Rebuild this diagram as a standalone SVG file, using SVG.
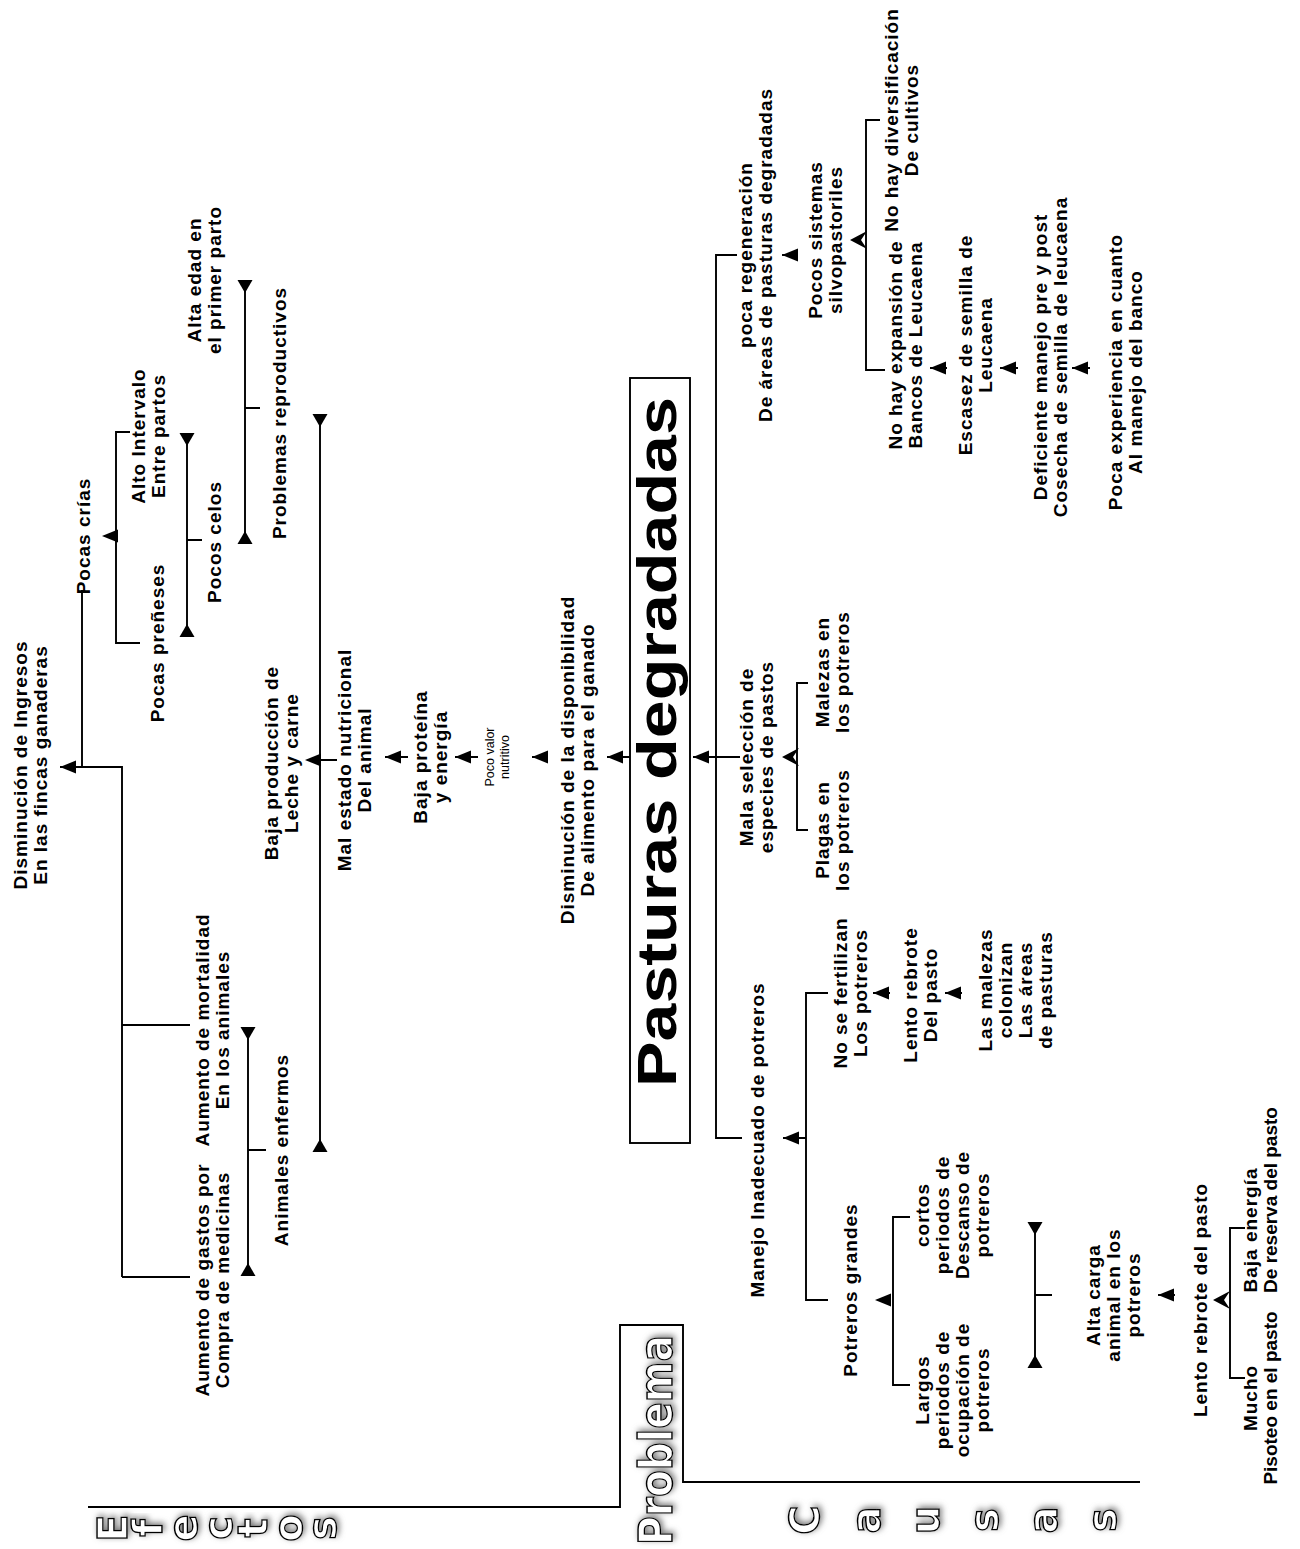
<svg xmlns="http://www.w3.org/2000/svg" xmlns:xlink="http://www.w3.org/1999/xlink" width="1300" height="1549" viewBox="0 0 1300 1549">
<style>
.t{font-family:"Liberation Sans",Arial,sans-serif;font-weight:bold;font-size:19px;letter-spacing:1px;text-anchor:middle;fill:#000}
.s{font-family:"Liberation Sans",Arial,sans-serif;font-size:12.5px;text-anchor:middle;fill:#000}
.ln{fill:none;stroke:#000;stroke-width:1.9}
.ol{font-family:"DejaVu Sans","Liberation Sans",sans-serif;font-weight:bold;fill:#fff;stroke:#000;stroke-width:1.3;text-anchor:middle;filter:url(#sh)}
</style>
<defs>
<filter id="sh" x="-30%" y="-30%" width="160%" height="160%">
<feGaussianBlur in="SourceAlpha" stdDeviation="3"/>
<feOffset dx="2" dy="2" result="b"/>
<feFlood flood-color="#777"/>
<feComposite in2="b" operator="in"/>
<feMerge><feMergeNode/><feMergeNode in="SourceGraphic"/></feMerge>
</filter>
<path id="al" d="M0,0 L16,-6.5 L16,6.5 Z"/>
<path id="ad" d="M-7.5,0 L7.5,0 L0,13 Z"/>
<path id="au" d="M-7.5,0 L7.5,0 L0,-13 Z"/>
<path id="a2" d="M0,0 L17,-9 L11,0 L17,9 Z"/>
</defs>
<rect width="1300" height="1549" fill="#fff"/>

<g id="connectors">
<path class="ln" d="M60 767 H82 M82 590 V767 H122 V1277 M122 1025 H190 M122 1277 H190"/>
<use xlink:href="#al" x="60" y="767"/>
<path class="ln" d="M130 432 H116 V643 H140"/>
<use xlink:href="#al" x="102" y="536"/>
<path class="ln" d="M187 437 V633 M187 540 H202"/>
<use xlink:href="#ad" x="187" y="433"/>
<use xlink:href="#au" x="187" y="637"/>
<path class="ln" d="M245 283 V540 M245 408 H260"/>
<use xlink:href="#ad" x="245" y="280"/>
<use xlink:href="#au" x="245" y="544"/>
<path class="ln" d="M320 418 V1148 M320 760 H337"/>
<use xlink:href="#ad" x="320" y="414"/>
<use xlink:href="#al" x="305" y="760"/>
<use xlink:href="#au" x="320" y="1152"/>
<path class="ln" d="M248 1030 V1272 M248 1150 H266"/>
<use xlink:href="#ad" x="248" y="1027"/>
<use xlink:href="#au" x="248" y="1276"/>
<path class="ln" d="M385 757 H408 M455 757 H478 M532 757 H548 M607 757 H630 M693 757 H740"/>
<use xlink:href="#al" x="385" y="757"/>
<use xlink:href="#al" x="455" y="757"/>
<use xlink:href="#al" x="532" y="757"/>
<use xlink:href="#al" x="607" y="757"/>
<use xlink:href="#al" x="693" y="757"/>
<path class="ln" d="M737 255 H716 V1138 H742"/>
<path class="ln" d="M782 255 H797"/>
<use xlink:href="#al" x="782" y="255"/>
<path class="ln" d="M880 120 H866 V370 H885"/>
<use xlink:href="#a2" x="850" y="240"/>
<path class="ln" d="M930 368 H947 M1000 368 H1018 M1072 368 H1090"/>
<use xlink:href="#al" x="930" y="368"/>
<use xlink:href="#al" x="1000" y="368"/>
<use xlink:href="#al" x="1072" y="368"/>
<path class="ln" d="M808 683 H797 V830 H808"/>
<use xlink:href="#a2" x="782" y="757"/>
<path class="ln" d="M783 1138 H806 M828 993 H806 V1300 H828"/>
<use xlink:href="#al" x="783" y="1138"/>
<path class="ln" d="M873 993 H890 M945 993 H962"/>
<use xlink:href="#al" x="873" y="993"/>
<use xlink:href="#al" x="945" y="993"/>
<path class="ln" d="M910 1217 H893 V1385 H910"/>
<use xlink:href="#al" x="875" y="1300"/>
<path class="ln" d="M1035 1225 V1365 M1035 1295 H1052"/>
<use xlink:href="#ad" x="1035" y="1222"/>
<use xlink:href="#au" x="1035" y="1368"/>
<path class="ln" d="M1158 1295 H1175"/>
<use xlink:href="#al" x="1158" y="1295"/>
<path class="ln" d="M1245 1228 H1230 V1378 H1245"/>
<use xlink:href="#a2" x="1213" y="1300"/>
<path class="ln" d="M88 1507 H620 V1325 H683 V1482 H1140"/>
</g>

<g id="n_dism_ing" transform="translate(27,765) rotate(-90)"><text class="t"><tspan x="0" y="0">Disminución de Ingresos</tspan><tspan x="0" y="20">En las fincas ganaderas</tspan></text></g>
<g id="n_pocas_crias" transform="translate(90,536) rotate(-90)"><text class="t">Pocas crías</text></g>
<g id="n_alto_int" transform="translate(145,436) rotate(-90)"><text class="t"><tspan x="0" y="0">Alto Intervalo</tspan><tspan x="0" y="20">Entre partos</tspan></text></g>
<g id="n_pocas_pren" transform="translate(164,643) rotate(-90)"><text class="t">Pocas preñeses</text></g>
<g id="n_pocos_celos" transform="translate(221,542) rotate(-90)"><text class="t">Pocos celos</text></g>
<g id="n_alta_edad" transform="translate(201,280) rotate(-90)"><text class="t"><tspan x="0" y="0">Alta edad en</tspan><tspan x="0" y="20">el primer parto</tspan></text></g>
<g id="n_prob_rep" transform="translate(286,413) rotate(-90)"><text class="t">Problemas reproductivos</text></g>
<g id="n_baja_prod" transform="translate(278,763) rotate(-90)"><text class="t"><tspan x="0" y="0">Baja producción de</tspan><tspan x="0" y="20">Leche y carne</tspan></text></g>
<g id="n_aum_mort" transform="translate(209,1030) rotate(-90)"><text class="t"><tspan x="0" y="0">Aumento de mortalidad</tspan><tspan x="0" y="20">En los animales</tspan></text></g>
<g id="n_aum_gastos" transform="translate(209,1280) rotate(-90)"><text class="t"><tspan x="0" y="0">Aumento de gastos por</tspan><tspan x="0" y="20">Compra de medicinas</tspan></text></g>
<g id="n_anim_enf" transform="translate(288,1150) rotate(-90)"><text class="t">Animales enfermos</text></g>
<g id="n_mal_estado" transform="translate(351,760) rotate(-90)"><text class="t"><tspan x="0" y="0">Mal estado nutricional</tspan><tspan x="0" y="20">Del animal</tspan></text></g>
<g id="n_baja_prot" transform="translate(427,757) rotate(-90)"><text class="t"><tspan x="0" y="0">Baja proteína</tspan><tspan x="0" y="20">y energía</tspan></text></g>
<g id="n_poco_valor" transform="translate(494,757) rotate(-90)"><text class="s"><tspan x="0" y="0">Poco valor</tspan><tspan x="0" y="15">nutritivo</tspan></text></g>
<g id="n_dism_disp" transform="translate(574,760) rotate(-90)"><text class="t"><tspan x="0" y="0">Disminución de la disponibilidad</tspan><tspan x="0" y="20">De alimento para el ganado</tspan></text></g>
<g id="n_core"><rect class="ln" x="630" y="378" width="60" height="765"/><text transform="translate(676,742) rotate(-90)" font-family="Liberation Sans, Arial, sans-serif" font-weight="bold" font-size="56" text-anchor="middle" textLength="690" lengthAdjust="spacingAndGlyphs">Pasturas degradadas</text></g>

<g id="n_poca_reg" transform="translate(752,255) rotate(-90)"><text class="t"><tspan x="0" y="0">poca regeneración</tspan><tspan x="0" y="20">De áreas de pasturas degradadas</tspan></text></g>
<g id="n_pocos_sist" transform="translate(822,240) rotate(-90)"><text class="t"><tspan x="0" y="0">Pocos sistemas</tspan><tspan x="0" y="20">silvopastoriles</tspan></text></g>
<g id="n_no_div" transform="translate(898,120) rotate(-90)"><text class="t"><tspan x="0" y="0">No hay diversificación</tspan><tspan x="0" y="20">De cultivos</tspan></text></g>
<g id="n_no_exp" transform="translate(902,345) rotate(-90)"><text class="t"><tspan x="0" y="0">No hay expansión de</tspan><tspan x="0" y="20">Bancos de Leucaena</tspan></text></g>
<g id="n_escasez" transform="translate(972,345) rotate(-90)"><text class="t"><tspan x="0" y="0">Escasez de semilla de</tspan><tspan x="0" y="20">Leucaena</tspan></text></g>
<g id="n_deficiente" transform="translate(1047,357) rotate(-90)"><text class="t"><tspan x="0" y="0">Deficiente manejo pre y post</tspan><tspan x="0" y="20">Cosecha de semilla de leucaena</tspan></text></g>
<g id="n_poca_exp" transform="translate(1122,372) rotate(-90)"><text class="t"><tspan x="0" y="0">Poca experiencia en cuanto</tspan><tspan x="0" y="20">Al manejo del banco</tspan></text></g>
<g id="n_mala_sel" transform="translate(753,757) rotate(-90)"><text class="t"><tspan x="0" y="0">Mala selección de</tspan><tspan x="0" y="20">especies de pastos</tspan></text></g>
<g id="n_malezas" transform="translate(829,672) rotate(-90)"><text class="t"><tspan x="0" y="0">Malezas en</tspan><tspan x="0" y="20">los potreros</tspan></text></g>
<g id="n_plagas" transform="translate(829,830) rotate(-90)"><text class="t"><tspan x="0" y="0">Plagas en</tspan><tspan x="0" y="20">los potreros</tspan></text></g>
<g id="n_manejo" transform="translate(764,1140) rotate(-90)"><text class="t">Manejo Inadecuado de potreros</text></g>
<g id="n_no_fert" transform="translate(847,993) rotate(-90)"><text class="t"><tspan x="0" y="0">No se fertilizan</tspan><tspan x="0" y="20">Los potreros</tspan></text></g>
<g id="n_lento1" transform="translate(917,995) rotate(-90)"><text class="t"><tspan x="0" y="0">Lento rebrote</tspan><tspan x="0" y="20">Del pasto</tspan></text></g>
<g id="n_malezas_col" transform="translate(992,990) rotate(-90)"><text class="t"><tspan x="0" y="0">Las malezas</tspan><tspan x="0" y="20">colonizan</tspan><tspan x="0" y="40">Las áreas</tspan><tspan x="0" y="60">de pasturas</tspan></text></g>
<g id="n_potreros_gr" transform="translate(857,1290) rotate(-90)"><text class="t">Potreros grandes</text></g>
<g id="n_cortos" transform="translate(929,1215) rotate(-90)"><text class="t"><tspan x="0" y="0">cortos</tspan><tspan x="0" y="20">periodos de</tspan><tspan x="0" y="40">Descanso de</tspan><tspan x="0" y="60">potreros</tspan></text></g>
<g id="n_largos" transform="translate(929,1390) rotate(-90)"><text class="t"><tspan x="0" y="0">Largos</tspan><tspan x="0" y="20">periodos de</tspan><tspan x="0" y="40">ocupación de</tspan><tspan x="0" y="60">potreros</tspan></text></g>
<g id="n_alta_carga" transform="translate(1100,1295) rotate(-90)"><text class="t"><tspan x="0" y="0">Alta carga</tspan><tspan x="0" y="20">animal en los</tspan><tspan x="0" y="40">potreros</tspan></text></g>
<g id="n_lento2" transform="translate(1207,1300) rotate(-90)"><text class="t">Lento rebrote del pasto</text></g>
<g id="n_baja_energia" transform="translate(1257,1200) rotate(-90)"><text class="t"><tspan x="-30" y="0">Baja energía</tspan><tspan x="0" y="20" letter-spacing="0">De reserva del pasto</tspan></text></g>
<g id="n_mucho" transform="translate(1257,1398) rotate(-90)"><text class="t"><tspan x="0" y="0">Mucho</tspan><tspan x="0" y="20" letter-spacing="0">Pisoteo en el pasto</tspan></text></g>

<g id="lbl_problema"><text class="ol" transform="translate(672,1440) rotate(-90)" font-size="46" textLength="210" lengthAdjust="spacingAndGlyphs">Problema</text></g>
<g id="lbl_efectos" font-size="40">
<text class="ol" transform="translate(113,1528) rotate(-90)" dominant-baseline="central">E</text>
<text class="ol" transform="translate(148,1528) rotate(-90)" dominant-baseline="central">f</text>
<text class="ol" transform="translate(183,1528) rotate(-90)" dominant-baseline="central">e</text>
<text class="ol" transform="translate(218,1528) rotate(-90)" dominant-baseline="central">c</text>
<text class="ol" transform="translate(253,1528) rotate(-90)" dominant-baseline="central">t</text>
<text class="ol" transform="translate(288,1528) rotate(-90)" dominant-baseline="central">o</text>
<text class="ol" transform="translate(322,1528) rotate(-90)" dominant-baseline="central">s</text>
</g>
<g id="lbl_causas" font-size="40">
<text class="ol" transform="translate(805,1520) rotate(-90)" dominant-baseline="central">C</text>
<text class="ol" transform="translate(866,1520) rotate(-90)" dominant-baseline="central">a</text>
<text class="ol" transform="translate(925,1520) rotate(-90)" dominant-baseline="central">u</text>
<text class="ol" transform="translate(984,1520) rotate(-90)" dominant-baseline="central">s</text>
<text class="ol" transform="translate(1043,1520) rotate(-90)" dominant-baseline="central">a</text>
<text class="ol" transform="translate(1102,1520) rotate(-90)" dominant-baseline="central">s</text>
</g>
</svg>
